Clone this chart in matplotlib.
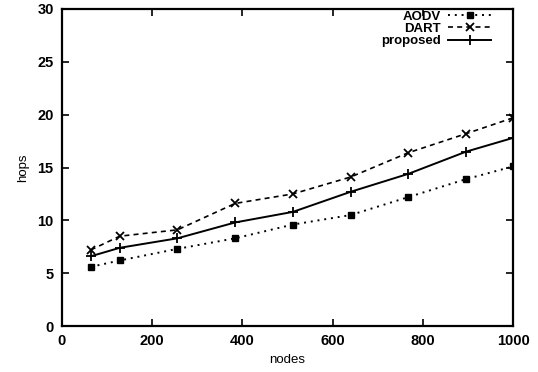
import matplotlib
matplotlib.use('Agg')
import matplotlib.pyplot as plt

nodes = [64, 128, 256, 384, 512, 640, 768, 896, 1000]
aodv = [5.6, 6.2, 7.3, 8.3, 9.6, 10.5, 12.2, 13.9, 15.1]
dart = [7.2, 8.5, 9.1, 11.6, 12.5, 14.1, 16.4, 18.2, 19.7]
proposed = [6.6, 7.4, 8.3, 9.8, 10.8, 12.7, 14.4, 16.5, 17.8]

plt.rcParams['font.family'] = ['Liberation Sans', 'DejaVu Sans']
plt.rcParams['font.weight'] = 'bold'

fig = plt.figure(figsize=(5.38, 3.72), dpi=100)
ax = fig.add_axes([62 / 538, 1 - 326 / 372, 451 / 538, 317 / 372])

ax.plot(nodes, aodv, color='black', linestyle=(0, (1, 2.5)), linewidth=1.4,
        marker='s', markersize=4, label='AODV')
ax.plot(nodes, dart, color='black', linestyle=(0, (3, 2.5)), linewidth=1.2,
        marker='x', markersize=5.5, markeredgewidth=1.3, label='DART')
ax.plot(nodes, proposed, color='black', linestyle='-', linewidth=1.4,
        marker='+', markersize=7, markeredgewidth=1.3, label='proposed')

ax.set_xlim(0, 1000)
ax.set_ylim(0, 30)
ax.set_xticks(range(0, 1001, 200))
ax.set_yticks(range(0, 31, 5))
ax.tick_params(direction='in', length=5, width=1.2, top=True, right=True,
               labelsize=10.5, pad=6)
for s in ax.spines.values():
    s.set_linewidth(1.6)

ax.set_xlabel('nodes', fontsize=9.5, labelpad=4)
ax.set_ylabel('hops', fontsize=9.5, labelpad=6)

ax.legend(loc='upper right', bbox_to_anchor=(0.968, 1.02), markerfirst=False,
          frameon=False, fontsize=9.5, handlelength=3.2, labelspacing=0.0,
          handletextpad=0.6, borderaxespad=0.2)

fig.savefig('out.png', dpi=100)
